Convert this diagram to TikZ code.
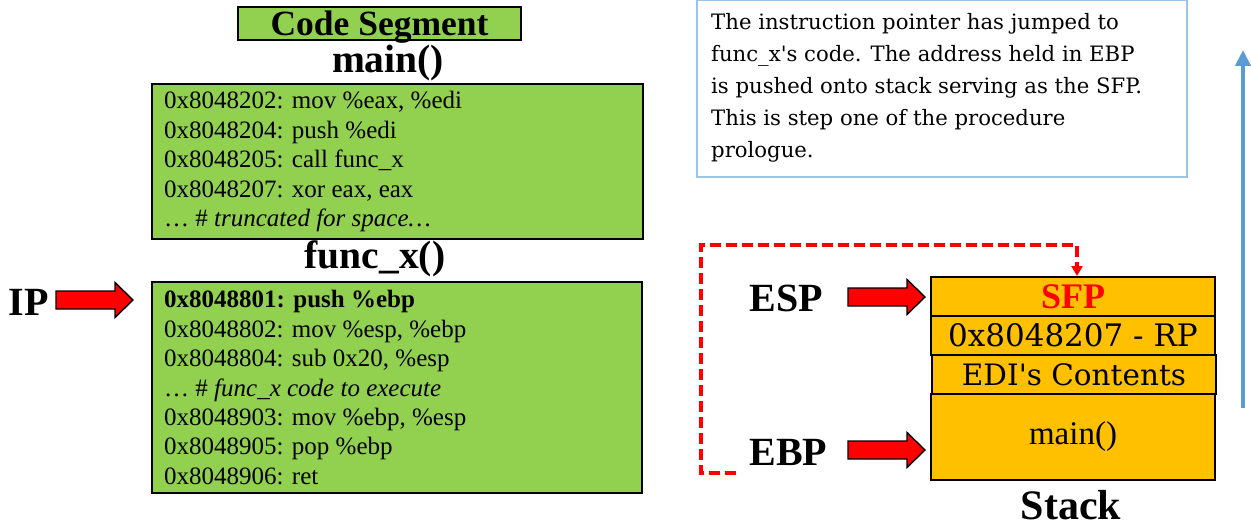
\documentclass[tikz,border=0pt]{standalone}
\usepackage{fontspec}
\setmainfont{Liberation Serif}
\newfontfamily\notefont{DejaVu Serif}
\usetikzlibrary{arrows.meta}
\definecolor{codegreen}{HTML}{92D050}
\definecolor{stackgold}{HTML}{FFC000}
\definecolor{noteblue}{HTML}{9DC3E6}
\definecolor{growblue}{HTML}{5B9BD5}
\newcommand{\sz}[2]{\fontsize{#1}{#2}\selectfont}
\tikzset{
  codebox/.style={draw=black, line width=2pt, fill=codegreen, inner sep=0pt},
  codetext/.style={anchor=west, align=left, inner sep=0pt, font=\sz{25}{29.5}},
  heading/.style={inner sep=0pt, font=\bfseries\sz{39.5}{41}},
  reglabel/.style={inner sep=0pt, font=\bfseries\sz{40}{42}},
  stackrow/.style={draw=black, line width=2pt, fill=stackgold, inner sep=0pt,
    minimum width=284pt},
  blockarrow/.pic={
    \draw[line width=1.4pt, fill=red]
      (0,-9) -- (59,-9) -- (59,-17.5) -- (77,0) -- (59,17.5) -- (59,9) -- (0,9) -- cycle;
  },
  fplink/.style={draw=red, line width=3.4pt, dash pattern=on 11pt off 5pt,
    -{Triangle[length=10pt,width=11pt]}},
  growth/.style={draw=growblue, line width=4pt, -{Triangle[length=16pt,width=15pt]}}
}
\begin{document}
\begin{tikzpicture}[x=1pt,y=-1pt]
\path[use as bounding box] (0,0) rectangle (1251,527);

% code segment: title and the two routines
\node[codebox, minimum width=283pt, minimum height=33pt, text depth=0pt,
  font=\bfseries\sz{35.5}{37}] (segtitle) at (379.5,23.5) {Code Segment};
\node[heading] (mainhead) at (388,63) {main()};
\node[codebox, minimum width=491pt, minimum height=155pt] (mainbox) at (397.5,161.5) {};
\node[codetext] (maincode) at ([xshift=13pt]mainbox.west) {%
  0x8048202: mov \%eax, \%edi\\
  0x8048204: push \%edi\\
  0x8048205: call func\_x\\
  0x8048207: xor eax, eax\\
  … \# \textit{truncated for space…}};

\node[heading] (funchead) at (375,259) {func\_x()};
\node[codebox, minimum width=490pt, minimum height=211pt] (funcbox) at (397,387.5) {};
\node[codetext] (funccode) at ([xshift=13pt]funcbox.west) {%
  \textbf{0x8048801: push \%ebp}\\
  0x8048802: mov \%esp, \%ebp\\
  0x8048804: sub 0x20, \%esp\\
  … \# \textit{func\_x code to execute}\\
  0x8048903: mov \%ebp, \%esp\\
  0x8048905: pop \%ebp\\
  0x8048906: ret};

% instruction pointer
\node[reglabel] (iplabel) at (28.5,302) {IP};
\pic (iparrow) at (56,300) {blockarrow};

% explanatory note
\node[draw=noteblue, line width=1.5pt, minimum width=490pt, minimum height=177pt, inner sep=0pt]
  (note) at (942,88.5) {};
\node[anchor=north west, align=left, inner sep=0pt, font=\notefont\sz{21.2}{32}]
  (notetext) at (711,13) {%
  The instruction pointer has jumped to\\
  func\_x's code. The address held in EBP\\
  is pushed onto stack serving as the SFP.\\
  This is step one of the procedure\\
  prologue.};

% the stack
\node[stackrow, minimum height=39pt, text=red, font=\bfseries\sz{36}{38}]
  (sfp) at (1073,296.5) {SFP};
\node[stackrow, minimum height=39pt, font=\notefont\sz{31}{33}]
  (rp) at (1073,335.5) {0x8048207 - RP};
\node[stackrow, minimum height=39pt, font=\notefont\sz{29.5}{32}]
  (edi) at (1074,374.5) {EDI's Contents};
\node[stackrow, minimum height=86pt, font=\sz{33}{35}]
  (mainframe) at (1073,437) {main()};
\node[inner sep=0pt, font=\bfseries\sz{42}{44}] (stacklabel) at (1071,505) {Stack};

% stack registers
\node[reglabel] (esplabel) at (786,298) {ESP};
\pic (esparrow) at (848,297) {blockarrow};
\node[reglabel] (ebplabel) at (788.5,452) {EBP};
\pic (ebparrow) at (848,450) {blockarrow};

% saved frame pointer link from EBP to the new stack top
\coordinate (linkstart) at (736,473);
\coordinate (linkleft) at (701,473);
\coordinate (linktop) at (701,245);
\coordinate (sfpentry) at ([xshift=4pt]sfp.north);
\draw[fplink] (linkstart) -- (linkleft) -- (linktop) -- (linktop -| sfpentry) -- (sfpentry);

% stack growth direction
\coordinate (growbase) at (1243,408);
\coordinate (growtip) at (1243,50);
\draw[growth] (growbase) -- (growtip);
\end{tikzpicture}
\end{document}
